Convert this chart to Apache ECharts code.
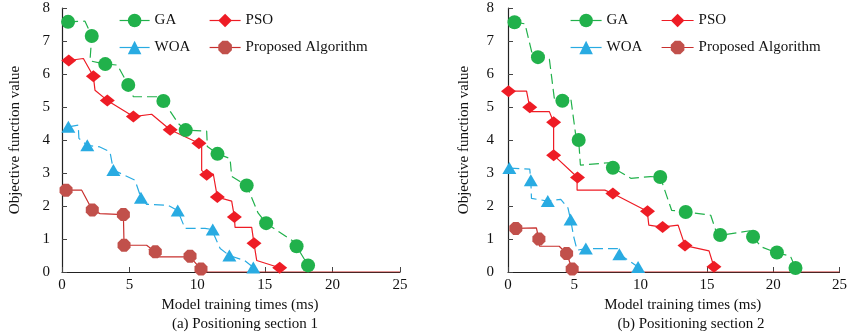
<!DOCTYPE html>
<html>
<head>
<meta charset="utf-8">
<script src="https://cdn.jsdelivr.net/npm/echarts@6/dist/echarts.min.js"></script>
<style>html,body{margin:0;padding:0;background:#fff;}#c{width:850px;height:332px;}</style>
</head>
<body>
<div id="c"></div>
<script>
// ---- Data: (a) Positioning section 1 ----
var gaLine1 = [[0.45,7.58],[1.7,7.6],[2.2,7.15],[2.07,6.4],[3.2,6.3],[4.1,6.27],[4.9,5.67],[5.28,5.31],[7.0,5.31],[7.5,5.18],[8.6,4.5],[9.15,4.3],[10.7,4.27],[10.75,3.8],[11.5,3.58],[12.43,3.44],[12.55,2.9],[13.66,2.62],[14.5,1.79],[15.1,1.48],[17.1,0.93],[17.35,0.78],[18.2,0.2]];
var gaMarks1 = [[0.45,7.58],[2.2,7.15],[3.2,6.3],[4.9,5.67],[7.5,5.18],[9.15,4.3],[11.5,3.58],[13.66,2.62],[15.1,1.48],[17.35,0.78],[18.2,0.2]];
var psoLine1 = [[0.5,6.41],[1.58,6.47],[2.32,5.93],[2.44,5.51],[3.35,5.2],[5.28,4.71],[6.63,4.78],[8.0,4.31],[10.13,3.9],[10.33,3.9],[10.33,3.08],[10.7,2.95],[11.19,2.97],[11.49,2.27],[12.55,2.15],[12.75,1.67],[12.8,1.35],[14.03,1.35],[14.2,0.87],[14.4,0.35],[16.1,0.13]];
var psoMarks1 = [[0.5,6.41],[2.32,5.93],[3.35,5.2],[5.28,4.71],[8.0,4.31],[10.13,3.9],[10.7,2.95],[11.49,2.27],[12.75,1.67],[14.2,0.87],[16.1,0.13]];
var woaLine1 = [[0.47,4.4],[1.2,4.45],[1.25,4.05],[1.87,3.84],[2.8,3.79],[3.55,3.64],[3.8,3.09],[5.4,2.78],[5.84,2.25],[6.26,2.05],[7.86,2.02],[8.56,1.86],[9.1,1.32],[10.58,1.32],[11.07,1.29],[11.7,0.71],[12.38,0.5],[13.5,0.35],[14.15,0.14]];
var woaMarks1 = [[0.47,4.4],[1.87,3.84],[3.8,3.09],[5.84,2.25],[8.56,1.86],[11.15,1.29],[12.38,0.5],[14.15,0.14]];
var propLine1 = [[0.3,2.48],[1.46,2.48],[2.24,1.88],[2.81,1.77],[4.54,1.74],[4.59,0.81],[6.26,0.81],[6.9,0.61],[7.0,0.46],[9.47,0.46],[10.28,0.09],[10.5,0],[25,0]];
var propMarks1 = [[0.3,2.48],[2.24,1.88],[4.54,1.74],[4.59,0.81],[6.9,0.61],[9.47,0.48],[10.28,0.09]];

// ---- Data: (b) Positioning section 2 ----
var gaLine2 = [[0.49,7.57],[1.28,7.52],[1.84,6.58],[2.26,6.51],[3.12,6.45],[3.49,5.27],[4.1,5.19],[4.72,5.31],[5.09,4.2],[5.33,4.0],[5.46,3.24],[7.54,3.31],[7.91,3.16],[9.26,2.84],[10.74,2.89],[11.48,2.88],[12.34,1.87],[13.4,1.82],[15.29,1.72],[15.66,1.27],[16.0,1.11],[18.24,1.25],[18.48,1.06],[19.1,0.76],[20.28,0.58],[21.3,0.48],[21.68,0.12]];
var gaMarks2 = [[0.49,7.57],[2.26,6.51],[4.1,5.19],[5.33,4.0],[7.91,3.16],[11.48,2.88],[13.4,1.82],[16.0,1.12],[18.48,1.07],[20.28,0.59],[21.68,0.12]];
var psoLine2 = [[0.04,5.48],[1.4,5.48],[1.64,4.99],[1.64,4.86],[3.12,4.86],[3.44,4.54],[3.44,3.54],[5.21,2.88],[5.21,2.48],[7.3,2.48],[7.91,2.38],[10.5,1.84],[10.62,1.42],[11.6,1.36],[12.83,1.42],[13.35,0.8],[15.16,0.64],[15.53,0.16]];
var psoMarks2 = [[0.04,5.48],[1.64,4.99],[3.44,4.54],[3.44,3.54],[5.24,2.86],[7.91,2.38],[10.52,1.84],[11.66,1.36],[13.35,0.8],[15.53,0.16]];
var woaLine2 = [[0.1,3.15],[1.64,3.12],[1.72,2.78],[1.77,2.23],[3.0,2.15],[3.98,2.2],[4.52,1.94],[4.72,1.59],[4.96,1.06],[5.21,0.66],[5.87,0.71],[8.28,0.71],[8.4,0.54],[9.81,0.15]];
var woaMarks2 = [[0.1,3.15],[1.72,2.78],[3.0,2.15],[4.72,1.59],[5.87,0.71],[8.4,0.54],[9.81,0.15]];
var propLine2 = [[0.59,1.32],[2.14,1.34],[2.33,1.0],[2.38,0.78],[3.86,0.78],[4.42,0.56],[4.84,0.09],[5.0,0],[25,0]];
var propMarks2 = [[0.59,1.32],[2.33,1.0],[4.42,0.56],[4.84,0.09]];

var names = ['GA', 'PSO', 'WOA', 'Proposed Algorithm'];
var xName = 'Model training times (ms)';
var yName = 'Objective function value';
var subTitles = ['(a) Positioning section 1', '(b) Positioning section 2'];

var FONT = '"Liberation Serif", "Times New Roman", serif';
var FS = 15;
var C = {ga: '#21b14b', pso: '#ee1c25', woa: '#29abe2', propM: '#c1504b', propL: '#c8302e'};
var octagon = 'path://M3,0 L7,0 L10,3 L10,7 L7,10 L3,10 L0,7 L0,3 Z';

var styles = {
  'GA': {color: C.ga, line: C.ga, dash: [10, 5], symbol: 'circle', size: 14},
  'PSO': {color: C.pso, line: C.pso, dash: 'solid', symbol: 'diamond', size: [15, 12]},
  'WOA': {color: C.woa, line: C.woa, dash: [10, 5], symbol: 'triangle', size: [14, 12]},
  'Proposed Algorithm': {color: C.propM, line: C.propL, dash: 'solid', symbol: octagon, size: 13}
};

function lineSeries(name, data, idx) {
  var s = styles[name];
  return {
    name: name, type: 'line', xAxisIndex: idx, yAxisIndex: idx, data: data,
    showSymbol: false, symbol: s.symbol, animation: false, z: 2,
    itemStyle: {color: s.color},
    lineStyle: {color: s.line, width: 1.2, type: s.dash}
  };
}
function markSeries(name, data, idx) {
  var s = styles[name];
  return {
    name: name, type: 'scatter', xAxisIndex: idx, yAxisIndex: idx, data: data,
    symbol: s.symbol, symbolSize: s.size, animation: false, z: 3,
    itemStyle: {color: s.color, opacity: 1}
  };
}

function xAxis(idx) {
  return {
    type: 'value', gridIndex: idx, min: 0, max: 25, interval: 5,
    name: xName, nameLocation: 'middle', nameGap: 23,
    nameTextStyle: {fontFamily: FONT, fontSize: FS, color: '#111', padding: [0, 0, 0, 18]},
    axisLine: {show: true, lineStyle: {color: '#222', width: 1.2}},
    axisTick: {show: true, inside: true, length: 5, lineStyle: {color: '#444'}},
    axisLabel: {fontFamily: FONT, fontSize: FS, color: '#111', margin: 6},
    splitLine: {show: false}
  };
}
function yAxis(idx, nameGap, margin) {
  return {
    type: 'value', gridIndex: idx, min: 0, max: 8, interval: 1,
    name: yName, nameLocation: 'middle', nameGap: nameGap,
    nameTextStyle: {fontFamily: FONT, fontSize: FS, color: '#111'},
    axisLine: {show: true, lineStyle: {color: '#222', width: 1.2}},
    axisTick: {show: true, inside: true, length: 5, lineStyle: {color: '#444'}},
    axisLabel: {fontFamily: FONT, fontSize: FS, color: '#111', margin: margin},
    splitLine: {show: false}
  };
}
function legend(data, left, itemWidth, gap) {
  return {
    data: data, orient: 'vertical', left: left, top: 8,
    itemWidth: itemWidth, itemHeight: 17, itemGap: 12, itemTextGap: gap,
    textStyle: {fontFamily: FONT, fontSize: FS, color: '#111'},
    lineStyle: {type: 'solid', width: 1.2}
  };
}

var chart = echarts.init(document.getElementById('c'), null, {renderer: 'canvas'});
chart.setOption({
  backgroundColor: '#fff',
  animation: false,
  grid: [
    {left: 62, right: 450, top: 8, bottom: 60, containLabel: false},
    {left: 508, right: 3, top: 8, bottom: 60, containLabel: false}
  ],
  title: [
    {text: subTitles[0], left: 240, top: 312, textAlign: 'center',
     textStyle: {fontFamily: FONT, fontSize: FS, fontWeight: 'normal', color: '#111'}},
    {text: subTitles[1], left: 686, top: 312, textAlign: 'center',
     textStyle: {fontFamily: FONT, fontSize: FS, fontWeight: 'normal', color: '#111'}}
  ],
  legend: [
    legend(['GA', 'WOA'], 114, 30, 5),
    legend(['PSO', 'Proposed Algorithm'], 204, 31, 7),
    legend(['GA', 'WOA'], 565, 31, 3),
    legend(['PSO', 'Proposed Algorithm'], 656, 32, 5)
  ],
  xAxis: [xAxis(0), xAxis(1)],
  yAxis: [yAxis(0, 39, 12), yAxis(1, 36, 14)],
  series: [
    lineSeries('GA', gaLine1, 0), lineSeries('PSO', psoLine1, 0), lineSeries('WOA', woaLine1, 0), lineSeries('Proposed Algorithm', propLine1, 0),
    lineSeries('GA', gaLine2, 1), lineSeries('PSO', psoLine2, 1), lineSeries('WOA', woaLine2, 1), lineSeries('Proposed Algorithm', propLine2, 1),
    markSeries('GA', gaMarks1, 0), markSeries('PSO', psoMarks1, 0), markSeries('WOA', woaMarks1, 0), markSeries('Proposed Algorithm', propMarks1, 0),
    markSeries('GA', gaMarks2, 1), markSeries('PSO', psoMarks2, 1), markSeries('WOA', woaMarks2, 1), markSeries('Proposed Algorithm', propMarks2, 1)
  ]
});
</script>
</body>
</html>
